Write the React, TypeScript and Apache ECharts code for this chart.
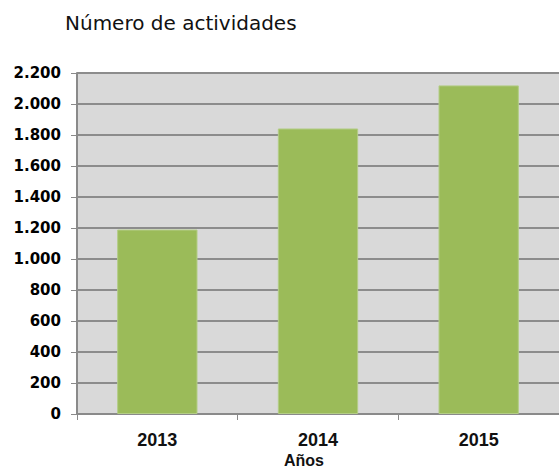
import React, { useEffect, useRef } from "react";
import * as echarts from "echarts";

const years = ["2013", "2014", "2015"];
const activities = [1190, 1842, 2120];
const yTicks = { min: 0, max: 2200, interval: 200 };
const titleText = "Número de actividades";
const xAxisTitle = "Años";

function fmt(v: number): string {
  return String(v).replace(/\B(?=(\d{3})+(?!\d))/g, ".");
}

export default function App() {
  const ref = useRef<HTMLDivElement>(null);
  useEffect(() => {
    if (!ref.current) return;
    const chart = echarts.init(ref.current, undefined, { renderer: "svg" });
    chart.setOption({
      animation: false,
      backgroundColor: "#ffffff",
      title: {
        text: titleText,
        left: 60,
        top: 8,
        textStyle: {
          fontFamily: "DejaVu Sans",
          fontSize: 20,
          fontWeight: "normal",
          color: "#111",
        },
      },
      grid: {
        left: 77,
        top: 73,
        bottom: 56,
        right: -2,
        show: true,
        backgroundColor: "#d9d9d9",
        borderWidth: 0,
      },
      xAxis: {
        type: "category",
        data: years,
        axisLine: { show: true, lineStyle: { color: "#8a8a8a", width: 2 } },
        axisTick: { show: true, length: 6, lineStyle: { color: "#8a8a8a", width: 1 } },
        axisLabel: {
          margin: 17,
          fontFamily: "Liberation Sans",
          fontWeight: "bold",
          fontSize: 18,
          color: "#111",
        },
        splitLine: { show: false },
      },
      yAxis: {
        type: "value",
        min: yTicks.min,
        max: yTicks.max,
        interval: yTicks.interval,
        axisLine: { show: true, lineStyle: { color: "#8a8a8a", width: 2 } },
        axisTick: { show: true, length: 6, lineStyle: { color: "#8a8a8a", width: 1 } },
        axisLabel: {
          margin: 16,
          fontFamily: "DejaVu Sans",
          fontWeight: "bold",
          fontSize: 15,
          color: "#000",
          formatter: (v: number) => fmt(v),
        },
        splitLine: { show: true, lineStyle: { color: "#8c8c8c", width: 2 } },
      },
      graphic: [
        {
          type: "text",
          left: 284,
          top: 452,
          style: {
            text: xAxisTitle,
            fontFamily: "Liberation Sans",
            fontWeight: "bold",
            fontSize: 16,
            fill: "#111",
          },
        },
      ],
      series: [
        {
          type: "bar",
          data: activities,
          barWidth: "50%",
          itemStyle: { color: "#9bbb59", borderColor: "#b3cd86", borderWidth: 1 },
        },
      ],
    });
    return () => chart.dispose();
  }, []);
  return (
    <div
      ref={ref}
      style={{ position: "fixed", left: 0, top: 0, width: 559, height: 470 }}
    />
  );
}
